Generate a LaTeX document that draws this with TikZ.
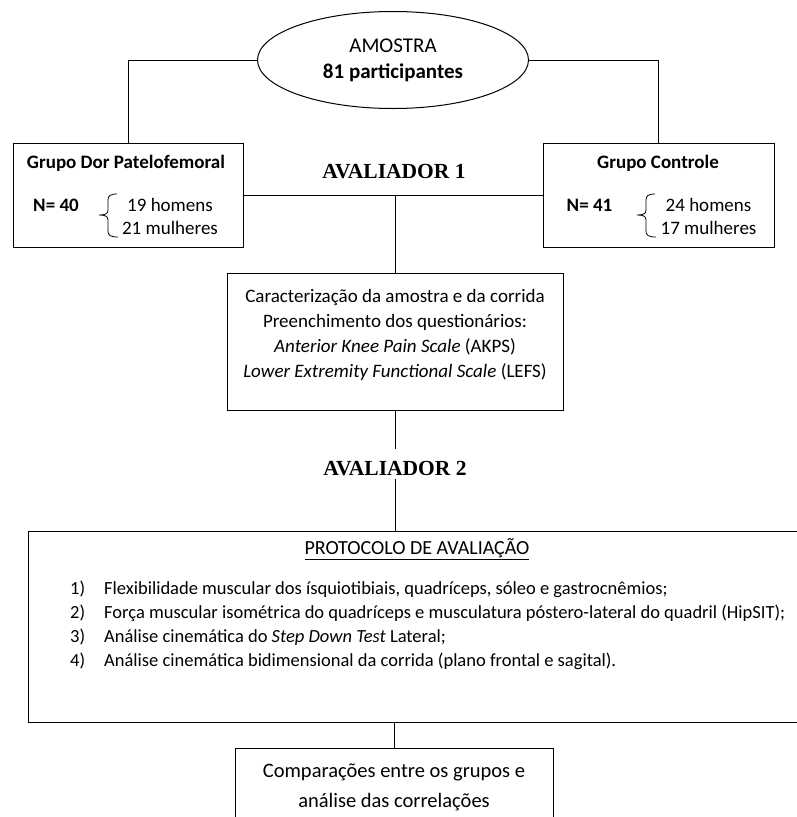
\documentclass[tikz,border=0pt]{standalone}
\usepackage{fontspec}
\setmainfont{Carlito}
\newfontfamily\timesfont{Liberation Serif}
\usetikzlibrary{shapes.geometric, calc}

\begin{document}
\begin{tikzpicture}[x=1pt, y=-1pt,
    every node/.style={font=\fontsize{19}{25}\selectfont, inner sep=0pt},
    box/.style={draw, line width=1pt},
    grouptitle/.style={font=\bfseries\fontsize{19}{25}\selectfont},
    evaluator/.style={font=\timesfont\bfseries\fontsize{21.5}{24}\selectfont},
]
    \clip (0, 0) rectangle (797, 817);

    % sample
    \node[draw, ellipse, line width=1pt, minimum width=271pt, minimum height=97pt, align=center,
        font=\fontsize{21}{26}\selectfont]
        (amostra) at (393, 60) {AMOSTRA\\\textbf{81 participantes}};

    % groups
    \node[box, minimum width=230pt, minimum height=104pt] (dor) at (128, 195) {};
    \node[box, minimum width=231pt, minimum height=104pt] (ctrl) at (658.5, 195) {};
    \node[grouptitle] (dortit) at (126, 163) {Grupo Dor Patelofemoral};
    \node[grouptitle] (ctrltit) at (658, 163) {Grupo Controle};
    \node[grouptitle] (dorn) at (56, 205) {N= 40};
    \node[grouptitle] (ctrln) at (589.5, 205) {N= 41};
    \node[align=center, font=\fontsize{19}{23}\selectfont] (dorsex) at (170, 216.5) {19 homens\\21 mulheres};
    \node[align=center, font=\fontsize{19}{23}\selectfont] (ctrlsex) at (708.5, 216.5) {24 homens\\17 mulheres};
    \foreach \bx in {0, 538}
        \draw[line width=0.8pt, shift={(\bx, 0)}]
            (117, 194) .. controls (110, 194) and (108, 196) .. (108, 200) -- (108, 210)
            .. controls (108, 214) and (105, 215) .. (99, 215)
            .. controls (105, 215) and (108, 216) .. (108, 220) -- (108, 231)
            .. controls (108, 235) and (110, 237) .. (118, 237);

    \draw[line width=1pt] (amostra.west) -| (dor.north);
    \draw[line width=1pt] (amostra.east) -| (ctrl.north);

    % first evaluator
    \node[evaluator] (aval1) at (394, 172) {AVALIADOR 1};
    \node[box, minimum width=336pt, minimum height=137pt] (carac) at (395, 341.5) {};
    \node[align=center] (caractxt) at (395, 334.5) {Caracterização da amostra e da corrida\\
        Preenchimento dos questionários:\\
        \textit{Anterior Knee Pain Scale} (AKPS)\\
        \textit{Lower Extremity Functional Scale} (LEFS)};
    \draw[line width=1pt] (dor.east) -- (ctrl.west);
    \draw[line width=1pt] (carac.north |- dor.east) -- (carac.north);

    % second evaluator
    \node[evaluator] (aval2) at (395, 468.5) {AVALIADOR 2};
    \node[box, minimum width=784pt, minimum height=191pt] (proto) at (420, 626.5) {};
    \node[font=\fontsize{20}{25}\selectfont] (prototit) at (417, 549) {\underline{PROTOCOLO DE AVALIAÇÃO}};
    \node[anchor=west, font=\fontsize{18.5}{24}\selectfont] (items) at (70, 626) {%
        \begin{tabular}{@{}l@{\hspace{19pt}}l@{}}
        1) & Flexibilidade muscular dos ísquiotibiais, quadríceps, sóleo e gastrocnêmios;\\
        2) & Força muscular isométrica do quadríceps e musculatura póstero-lateral do quadril (HipSIT);\\
        3) & Análise cinemática do \textit{Step Down Test} Lateral;\\
        4) & Análise cinemática bidimensional da corrida (plano frontal e sagital).
        \end{tabular}};
    \draw[line width=1pt] (carac.south) -- ([yshift=12pt]aval2.north -| carac.south);
    \draw[line width=1pt] ([yshift=-3pt]aval2.south) -- (aval2.south |- proto.north);

    % results
    \node[box, minimum width=318pt, minimum height=92pt] (resul) at (394, 794) {};
    \node[align=center, font=\fontsize{20.5}{30}\selectfont] (resultxt) at (394, 787)
        {Comparações entre os grupos e\\análise das correlações};
    \draw[line width=1pt] (resul.north |- proto.south) -- (resul.north);
\end{tikzpicture}
\end{document}
